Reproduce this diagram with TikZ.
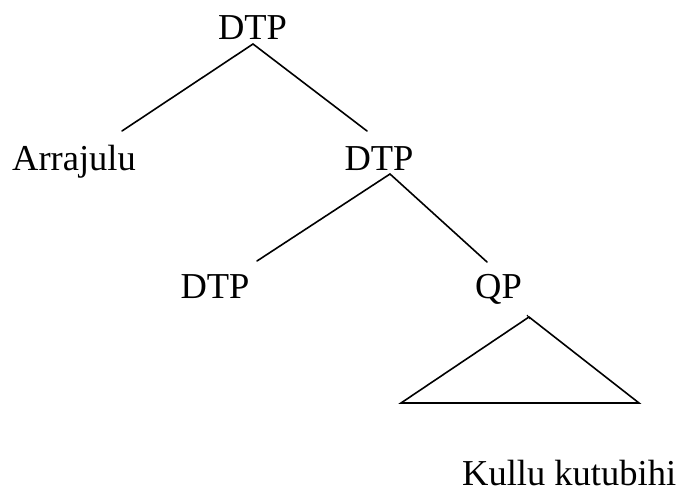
\documentclass[tikz,border=0pt]{standalone}
\usepackage{fontspec}
\setmainfont{Liberation Serif}
\begin{document}
\begin{tikzpicture}[x=1pt,y=-1pt,
  lbl/.style={inner sep=0pt,anchor=base,font=\fontsize{36.5}{40}\selectfont},
  branch/.style={line width=1.6pt,line cap=round}]
\useasboundingbox (0,0) rectangle (682,495);
% labels
\node[lbl] (dtpA) at (252.5,40) {DTP};
\node[lbl,anchor=base west] (arr) at (12,170) {Arrajulu};
\node[lbl] (dtpB) at (379,170) {DTP};
\node[lbl] (dtpC) at (215,298) {DTP};
\node[lbl] (qp) at (498.5,298) {QP};
\node[lbl,anchor=base west] (kullu) at (462,485) {Kullu kutubihi};
% branch end points
\coordinate (a0) at (253,44);
\coordinate (a1) at (122,131);
\coordinate (a2) at (367,131);
\coordinate (b0) at (390,174);
\coordinate (b1) at (257,261);
\coordinate (b2) at (487,262);
\coordinate (q0) at (529,317);
\coordinate (t1) at (401,403);
\coordinate (t2) at (639,403);
% branches
\draw[branch] (a0) -- (a1);
\draw[branch] (a0) -- (a2);
\draw[branch] (b0) -- (b1);
\draw[branch] (b0) -- (b2);
% triangle under QP
\draw[branch,line join=miter] (t1) -- (q0) -- (t2) -- cycle;
\draw[line width=1pt] (527,315) -- (530,319);
\end{tikzpicture}
\end{document}
